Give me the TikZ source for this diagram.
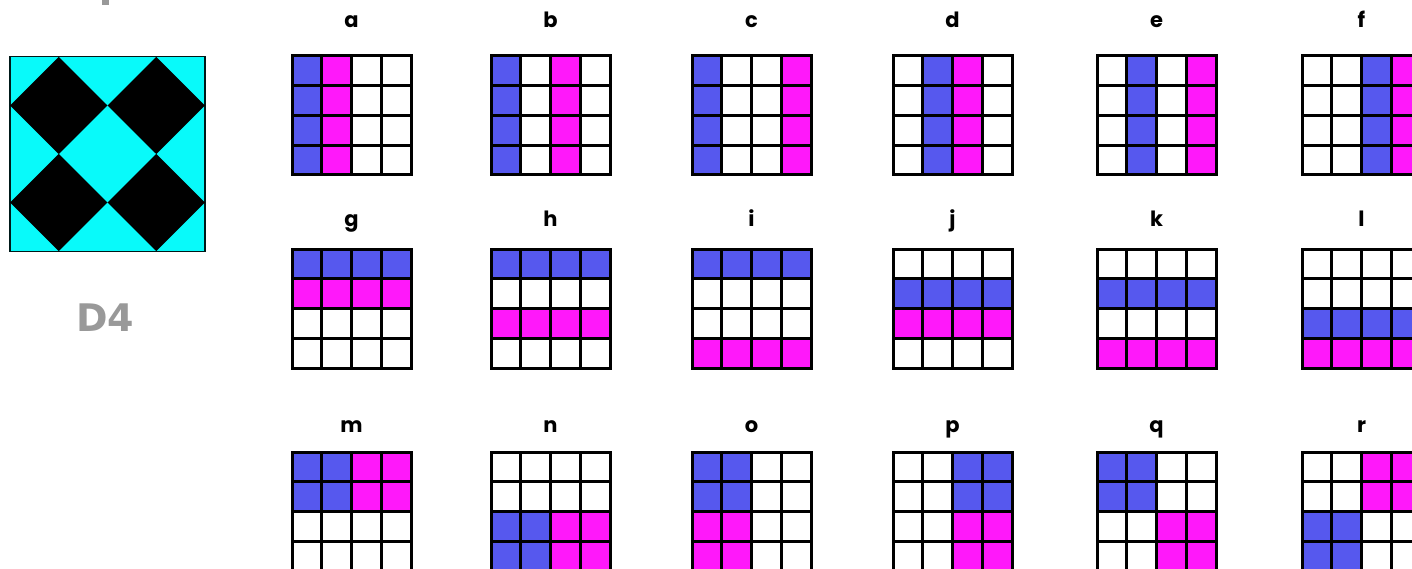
\documentclass[tikz,border=0pt]{standalone}
\usepackage{fontspec}
\usepackage{tikz}
\usetikzlibrary{positioning,calc}
\newfontfamily\lblfont{Poppins}
\newfontfamily\capfont{DejaVu Sans}
\definecolor{tblue}{RGB}{86,88,238}
\definecolor{tmag}{RGB}{255,24,250}
\definecolor{tcyan}{RGB}{8,250,250}
\definecolor{tgris}{RGB}{153,153,153}

% one 4x4 panel: name, left, top, letter, label offset, blue corners, magenta corners
\newcommand{\panel}[9]{%
  \begin{scope}[shift={(#2,#3)}]
    \node[lbl, anchor=base] (lbl_#1) at (59.5,#5) {#4};
    \begin{scope}[x=29.75pt, y=-29.75pt]
      \fill[tblue] #6 rectangle #7;
      \fill[tmag] #8 rectangle #9;
      \foreach \k in {1,2,3} {
        \draw[gridline] (\k,0) -- (\k,4);
        \draw[gridline] (0,\k) -- (4,\k);
      }
      \draw[gridline] (0,0) rectangle (4,4);
    \end{scope}
  \end{scope}}

\begin{document}
\begin{tikzpicture}[
  x=1pt, y=-1pt,
  lbl/.style={inner sep=0pt, font=\lblfont\bfseries\fontsize{21}{21}\selectfont},
  gridline/.style={black, line width=3pt},
  tilecap/.style={inner sep=0pt, text=tgris, font=\capfont\bfseries\fontsize{38}{38}\selectfont}
]
  \useasboundingbox (0,0) rectangle (1412,569);
  \clip (0,0) rectangle (1412,569);

  % tail of a cut-off letter
  \fill[tgris] (102,0) rectangle (109,5);

  % D4 tile
  \node[draw=black!80!teal, line width=1.2pt, fill=tcyan, minimum size=195pt, inner sep=0pt] (tile) at (107.5,154) {};
  \foreach \cx/\cy in {58.75/105.5, 156.25/105.5, 58.75/202.5, 156.25/202.5}
    \fill[black] (\cx,\cy-48.5) -- (\cx+48.75,\cy) -- (\cx,\cy+48.5) -- (\cx-48.75,\cy) -- cycle;
  \node[tilecap, anchor=base] (tilename) at (105,331) {D4};

  % columns and rows
  \panel{a}{292}{56}{a}{-28}{(0,0)}{(1,4)}{(1,0)}{(2,4)}
  \panel{b}{491}{56}{b}{-28}{(0,0)}{(1,4)}{(2,0)}{(3,4)}
  \panel{c}{692}{56}{c}{-28}{(0,0)}{(1,4)}{(3,0)}{(4,4)}
  \panel{d}{893}{56}{d}{-28}{(1,0)}{(2,4)}{(2,0)}{(3,4)}
  \panel{e}{1097}{56}{e}{-28}{(1,0)}{(2,4)}{(3,0)}{(4,4)}
  \panel{f}{1302}{56}{f}{-28}{(2,0)}{(3,4)}{(3,0)}{(4,4)}

  \panel{g}{292}{249}{g}{-22}{(0,0)}{(4,1)}{(0,1)}{(4,2)}
  \panel{h}{491}{249}{h}{-22}{(0,0)}{(4,1)}{(0,2)}{(4,3)}
  \panel{i}{692}{249}{i}{-22}{(0,0)}{(4,1)}{(0,3)}{(4,4)}
  \panel{j}{893}{249}{j}{-22}{(0,1)}{(4,2)}{(0,2)}{(4,3)}
  \panel{k}{1097}{249}{k}{-22}{(0,1)}{(4,2)}{(0,3)}{(4,4)}
  \panel{l}{1302}{249}{l}{-22}{(0,2)}{(4,3)}{(0,3)}{(4,4)}

  \panel{m}{292}{452}{m}{-20}{(0,0)}{(2,2)}{(2,0)}{(4,2)}
  \panel{n}{491}{452}{n}{-20}{(0,2)}{(2,4)}{(2,2)}{(4,4)}
  \panel{o}{692}{452}{o}{-20}{(0,0)}{(2,2)}{(0,2)}{(2,4)}
  \panel{p}{893}{452}{p}{-20}{(2,0)}{(4,2)}{(2,2)}{(4,4)}
  \panel{q}{1097}{452}{q}{-20}{(0,0)}{(2,2)}{(2,2)}{(4,4)}
  \panel{r}{1302}{452}{r}{-20}{(0,2)}{(2,4)}{(2,0)}{(4,2)}
\end{tikzpicture}
\end{document}
